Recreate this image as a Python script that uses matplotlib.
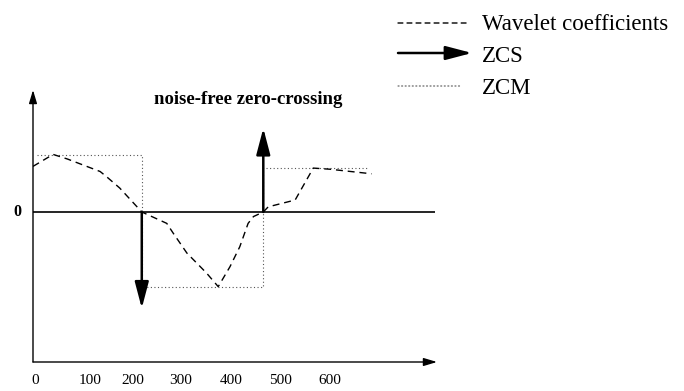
import matplotlib
matplotlib.use('Agg')
import matplotlib.pyplot as plt

plt.rcParams['font.family'] = ['Liberation Serif', 'DejaVu Serif']

# wavelet coefficients (dashed curve)
wave_x = [0, 41, 70, 137, 150, 177, 222, 273, 286, 314, 354, 378, 402, 422, 439, 450, 470, 480, 535, 572, 606, 691]
wave_y = [0.80, 1.01, 0.93, 0.71, 0.62, 0.42, 0.0, -0.20, -0.37, -0.72, -1.07, -1.31, -0.96, -0.61, -0.20, -0.08, 0.0, 0.09, 0.21, 0.77, 0.75, 0.67]

# zero-crossing magnitude (dotted step)
zcm_x = [8, 222, 222, 470, 470, 684]
zcm_y = [1.0, 1.0, -1.31, -1.31, 0.78, 0.78]

# zero-crossing signs (arrows)
zcs_x = [222, 470]
zcs_y = [-1.69, 1.47]

tick_pos = [4, 116, 204, 302, 404, 506, 606]
tick_labels = ['0', '100', '200', '300', '400', '500', '600']

W, H = 684, 391
fig = plt.figure(figsize=(W / 100, H / 100), dpi=100)
ax = fig.add_axes([33 / W, 1 - 362 / H, (437 - 33) / W, (362 - 90) / H])
ax.set_xlim(0, 824.5)
ax.set_ylim(-2.632, 2.14)
ax.axis('off')

# axes with arrow heads
axis_arrow = dict(arrowstyle='-|>,head_length=1.0,head_width=0.3', lw=1.0, color='black',
                  shrinkA=0, shrinkB=0, mutation_scale=8)
ax.annotate('', xy=(1, 0), xytext=(0, 0), xycoords='axes fraction', arrowprops=axis_arrow)
ax.annotate('', xy=(0, 1), xytext=(0, 0), xycoords='axes fraction', arrowprops=axis_arrow)

# zero line
ax.plot([0, 820], [0, 0], color='black', lw=1.2, solid_capstyle='butt')

ax.plot(zcm_x, zcm_y, color='#555555', lw=0.8, linestyle=(0, (1, 2.2)))
ax.plot(wave_x, wave_y, color='black', lw=1.0, linestyle=(0, (5, 3.5)))

big_arrow = dict(arrowstyle='-|>,head_length=16,head_width=4.2', lw=1.8, color='black',
                 shrinkA=0, shrinkB=0, mutation_scale=1)
for x, y in zip(zcs_x, zcs_y):
    ax.annotate('', xy=(x, y), xytext=(x, 0), arrowprops=big_arrow)

for x, lab in zip(tick_pos, tick_labels):
    ax.text(x, -2.95, lab, ha='center', va='center', fontsize=11)
ax.text(-31, 0, '0', ha='center', va='center', fontsize=11.5, fontweight='bold')

fig.text(154 / W, 1 - 99 / H, 'noise-free zero-crossing', ha='left', va='center',
         fontsize=13.5, fontweight='bold')

# legend, drawn by hand
ax.annotate('', xy=(468, H - 23), xytext=(398, H - 23), xycoords='figure pixels',
            arrowprops=dict(arrowstyle='-', lw=1.0, color='black', linestyle=(0, (3.5, 3)),
                            shrinkA=0, shrinkB=0))
ax.annotate('', xy=(472, H - 53), xytext=(398, H - 53), xycoords='figure pixels',
            arrowprops=big_arrow)
ax.annotate('', xy=(460, H - 86), xytext=(398, H - 86), xycoords='figure pixels',
            arrowprops=dict(arrowstyle='-', lw=0.8, color='#555555', linestyle=(0, (1, 2.2)),
                            shrinkA=0, shrinkB=0))
for yy, lab in zip([24, 57, 89], ['Wavelet coefficients', 'ZCS', 'ZCM']):
    fig.text(482 / W, 1 - yy / H, lab, ha='left', va='center', fontsize=16.5)

fig.savefig('out.png', dpi=100)
